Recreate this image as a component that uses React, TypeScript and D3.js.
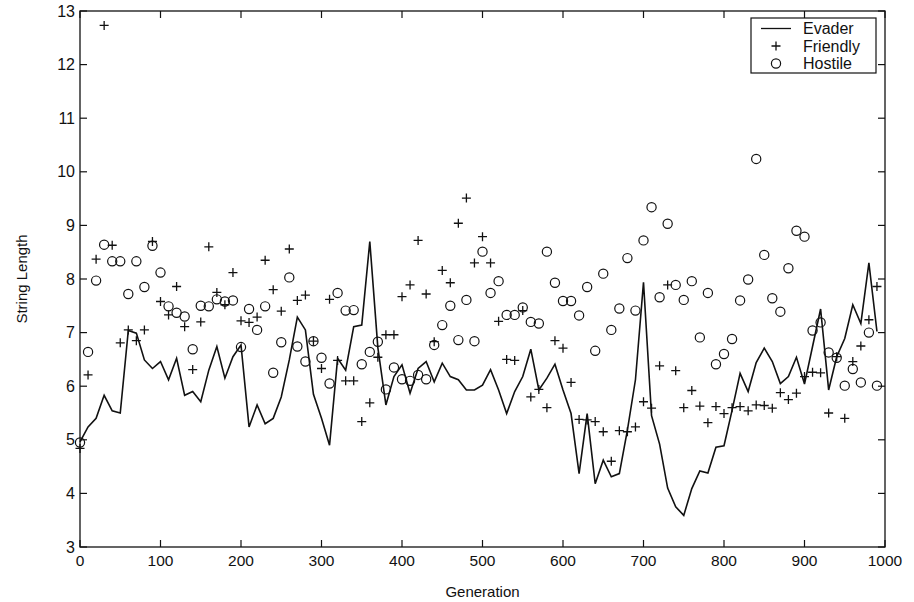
import React from 'react';
import * as d3 from 'd3';

// generation sampled every 10 steps
const generations = [
  0, 10, 20, 30, 40, 50, 60, 70, 80, 90,
  100, 110, 120, 130, 140, 150, 160, 170, 180, 190,
  200, 210, 220, 230, 240, 250, 260, 270, 280, 290,
  300, 310, 320, 330, 340, 350, 360, 370, 380, 390,
  400, 410, 420, 430, 440, 450, 460, 470, 480, 490,
  500, 510, 520, 530, 540, 550, 560, 570, 580, 590,
  600, 610, 620, 630, 640, 650, 660, 670, 680, 690,
  700, 710, 720, 730, 740, 750, 760, 770, 780, 790,
  800, 810, 820, 830, 840, 850, 860, 870, 880, 890,
  900, 910, 920, 930, 940, 950, 960, 970, 980, 990,
];

const evader = [
  4.96, 5.24, 5.4, 5.83, 5.54, 5.5, 7.04, 6.99, 6.49, 6.33,
  6.46, 6.12, 6.52, 5.83, 5.9, 5.71, 6.3, 6.74, 6.15, 6.55,
  6.77, 5.24, 5.65, 5.3, 5.4, 5.8, 6.49, 7.29, 7.05, 5.85,
  5.4, 4.9, 6.52, 6.3, 7.11, 7.14, 8.7, 6.72, 5.65, 6.18,
  6.4, 5.87, 6.33, 6.46, 6.08, 6.43, 6.18, 6.12, 5.93, 5.93,
  6.02, 6.31, 5.93, 5.49, 5.9, 6.18, 6.69, 5.93, 6.15, 6.41,
  5.93, 5.49, 4.37, 5.49, 4.18, 4.62, 4.31, 4.37, 5.18, 6.12,
  7.94, 5.45, 4.92, 4.1, 3.75, 3.59, 4.09, 4.42, 4.38, 4.86,
  4.89, 5.55, 6.24, 5.9, 6.44, 6.71, 6.46, 6.05, 6.18, 6.54,
  6.04, 6.74, 7.44, 5.93, 6.55, 6.89, 7.52, 7.17, 8.3, 7.02,
];

const friendly = [
  4.84, 6.21, 8.37, 12.73, 8.63, 6.81, 7.05, 6.85, 7.05, 8.7,
  7.58, 7.33, 7.86, 7.11, 6.31, 7.2, 8.6, 7.75, 7.52, 8.12,
  7.22, 7.19, 7.29, 8.35, 7.8, 7.4, 8.56, 7.6, 7.7, 6.84,
  6.33, 7.62, 6.48, 6.1, 6.1, 5.34, 5.69, 6.54, 6.96, 6.96,
  7.67, 7.89, 8.72, 7.72, 6.83, 8.16, 7.93, 9.04, 9.51, 8.3,
  8.79, 8.3, 7.21, 6.5, 6.48, 7.41, 5.8, 5.94, 5.6, 6.85,
  6.71, 6.07, 5.38, 5.37, 5.34, 5.15, 4.6, 5.17, 5.15, 5.24,
  5.71, 5.59, 6.38, 7.89, 6.29, 5.6, 5.92, 5.63, 5.32, 5.62,
  5.49, 5.6, 5.62, 5.54, 5.65, 5.64, 5.59, 5.88, 5.75, 5.87,
  6.18, 6.26, 6.25, 5.5, 6.55, 5.4, 6.46, 6.75, 7.24, 7.86,
];

const hostile = [
  4.95, 6.64, 7.97, 8.64, 8.33, 8.33, 7.72, 8.33, 7.85, 8.62,
  8.12, 7.49, 7.37, 7.3, 6.69, 7.5, 7.49, 7.62, 7.58, 7.6,
  6.73, 7.44, 7.05, 7.49, 6.25, 6.82, 8.03, 6.74, 6.46, 6.84,
  6.53, 6.05, 7.74, 7.41, 7.42, 6.41, 6.64, 6.83, 5.94, 6.35,
  6.13, 6.1, 6.21, 6.13, 6.77, 7.14, 7.5, 6.86, 7.61, 6.84,
  8.51, 7.74, 7.96, 7.33, 7.33, 7.47, 7.2, 7.17, 8.51, 7.93,
  7.59, 7.59, 7.32, 7.85, 6.66, 8.1, 7.05, 7.45, 8.39, 7.41,
  8.72, 9.34, 7.66, 9.03, 7.89, 7.61, 7.96, 6.91, 7.74, 6.41,
  6.6, 6.88, 7.6, 7.99, 10.24, 8.45, 7.64, 7.39, 8.2, 8.9,
  8.79, 7.04, 7.19, 6.63, 6.53, 6.01, 6.32, 6.07, 7.0, 6.01,
];

const xTicks = [0, 100, 200, 300, 400, 500, 600, 700, 800, 900, 1000];
const yTicks = [3, 4, 5, 6, 7, 8, 9, 10, 11, 12, 13];
const legendLabels = ['Evader', 'Friendly', 'Hostile'];

const W = 914;
const H = 602;
const FONT = '"Liberation Sans", Arial, Helvetica, sans-serif';

const plus = (r: number) => `M${-r},0H${r}M0,${-r}V${r}`;

export default function App() {
  const x = d3.scaleLinear().domain([0, 1000]).range([80, 885]);
  const y = d3.scaleLinear().domain([3, 13]).range([547, 11]);
  const [x0, x1] = x.range();
  const [y0, y1] = y.range();
  const tick = 7;

  const line = d3
    .line<number>()
    .x((_, i) => x(generations[i]))
    .y((d) => y(d));

  return (
    <svg
      width={W}
      height={H}
      style={{ position: 'absolute', left: 0, top: 0, background: '#fff' }}
      fontFamily={FONT}
    >
      {/* axes box, ticks point inward on all sides */}
      <rect x={x0} y={y1} width={x1 - x0} height={y0 - y1} fill="none" stroke="#111" strokeWidth={1.3} />
      {xTicks.map((t) => (
        <g key={'x' + t}>
          <line x1={x(t)} x2={x(t)} y1={y0} y2={y0 - tick} stroke="#111" strokeWidth={1.2} />
          <line x1={x(t)} x2={x(t)} y1={y1} y2={y1 + tick} stroke="#111" strokeWidth={1.2} />
          <text x={x(t)} y={y0 + 19} textAnchor="middle" fontSize={15.5} fill="#111">
            {t}
          </text>
        </g>
      ))}
      {yTicks.map((t) => (
        <g key={'y' + t}>
          <line x1={x0} x2={x0 + tick} y1={y(t)} y2={y(t)} stroke="#111" strokeWidth={1.2} />
          <line x1={x1} x2={x1 - tick} y1={y(t)} y2={y(t)} stroke="#111" strokeWidth={1.2} />
          <text x={x0 - 5} y={y(t) + 5.5} textAnchor="end" fontSize={16} fill="#111">
            {t}
          </text>
        </g>
      ))}

      {/* evader */}
      <path d={line(evader) || ''} fill="none" stroke="#111" strokeWidth={1.6} />

      {/* friendly */}
      {friendly.map((v, i) => (
        <path key={'f' + i} d={plus(4.5)} transform={`translate(${x(generations[i])},${y(v)})`} stroke="#111" strokeWidth={1.3} fill="none" />
      ))}

      {/* hostile */}
      {hostile.map((v, i) => (
        <circle key={'h' + i} cx={x(generations[i])} cy={y(v)} r={4.6} fill="none" stroke="#111" strokeWidth={1.2} />
      ))}

      {/* legend */}
      <g>
        <rect x={751} y={18} width={125} height={55} fill="#fff" stroke="#111" strokeWidth={1.2} />
        {legendLabels.map((lab, i) => {
          const cy = 28.5 + i * 17.5;
          return (
            <g key={lab}>
              {i === 0 && <line x1={761} x2={791} y1={cy} y2={cy} stroke="#111" strokeWidth={1.3} />}
              {i === 1 && <path d={plus(4.5)} transform={`translate(776,${cy})`} stroke="#111" strokeWidth={1.3} />}
              {i === 2 && <circle cx={776} cy={cy} r={4.6} fill="none" stroke="#111" strokeWidth={1.2} />}
              <text x={803} y={cy + 5.5} fontSize={16} fill="#111">
                {lab}
              </text>
            </g>
          );
        })}
      </g>

      {/* axis titles */}
      <text x={(x0 + x1) / 2} y={597} textAnchor="middle" fontSize={15} fill="#111">
        Generation
      </text>
      <text
        transform={`translate(27,${(y0 + y1) / 2}) rotate(-90)`}
        textAnchor="middle"
        fontSize={15}
        fill="#111"
      >
        String Length
      </text>
    </svg>
  );
}
